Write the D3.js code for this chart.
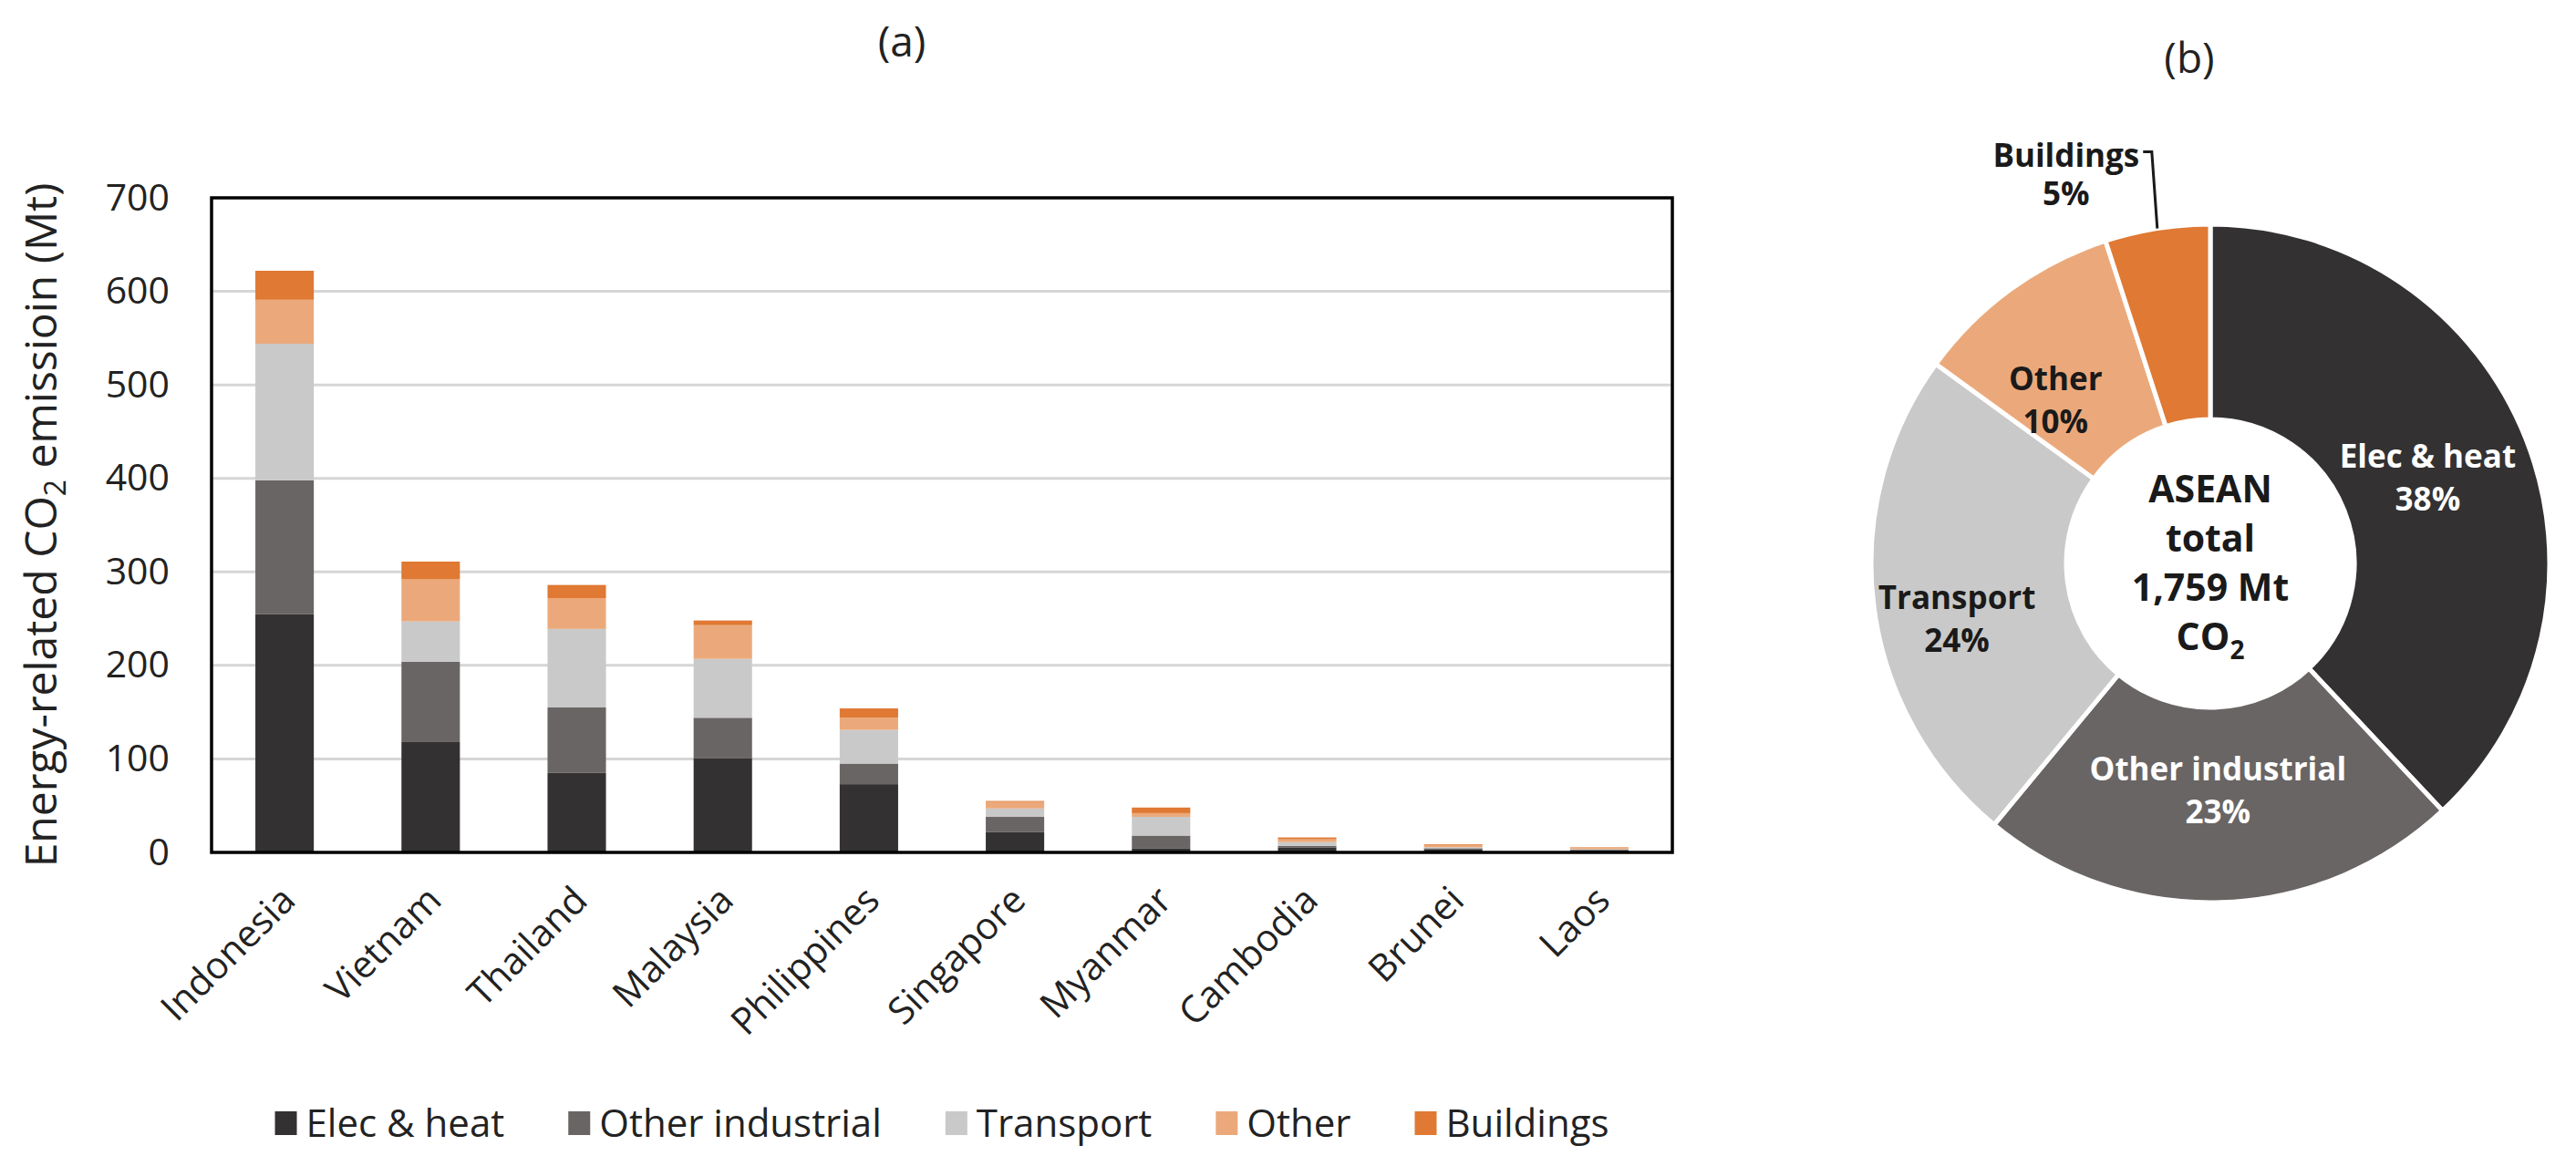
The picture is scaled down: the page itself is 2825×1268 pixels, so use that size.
<!DOCTYPE html>
<html><head><meta charset="utf-8">
<script src="https://cdn.jsdelivr.net/npm/d3@7"></script>
<style>
html,body{margin:0;padding:0;background:#fff;}
svg text{font-family:"Open Sans",sans-serif;}
</style></head><body>
<svg id="chart" width="2825" height="1268"></svg>
<script>
// ---- data ----
const countries = ["Indonesia","Vietnam","Thailand","Malaysia","Philippines","Singapore","Myanmar","Cambodia","Brunei","Laos"];
const sectors = ["Elec & heat","Other industrial","Transport","Other","Buildings"];
const elecHeat        = [255,118,85,101,73,22,4,5,3,2.5];
const otherIndustrial = [143,86,70,43,22,16,14,2,1.5,0.5];
const transport       = [146,43,84,63,36,9,20,4,1,0.5];
const other           = [47,45,33,36,13,7,4,3,2.5,1.5];
const buildings       = [31,19,14,5,10,1,6,2,0.8,0.5];
const yTicks = [0,100,200,300,400,500,600,700];
const shareLabels = ["Elec & heat","Other industrial","Transport","Other","Buildings"];
const sharePct = [38,23,24,10,5];
const centerLines = ["ASEAN","total","1,759 Mt","CO2"];
const colors = ["#333132","#696564","#c9c9c9","#eba97b","#df7933"];

// ---- layout ----
const svg = d3.select("#chart");
const M = {left:232, right:1834, top:217, bottom:935};
const x = d3.scaleBand().domain(countries).range([M.left,M.right]).paddingInner(0.6).paddingOuter(0.3);
const y = d3.scaleLinear().domain([0,700]).range([M.bottom,M.top]);
const color = d3.scaleOrdinal().domain(sectors).range(colors);
const series = [elecHeat,otherIndustrial,transport,other,buildings];
const rows = countries.map((c,i)=>{const o={country:c}; sectors.forEach((s,k)=>o[s]=series[k][i]); return o;});
const stacked = d3.stack().keys(sectors)(rows);

// titles
svg.append("text").attr("x",989).attr("y",62).attr("text-anchor","middle").attr("font-size",46).attr("fill","#222").text("(a)");
svg.append("text").attr("x",2401).attr("y",80).attr("text-anchor","middle").attr("font-size",46).attr("fill","#222").text("(b)");

// gridlines
svg.append("g").selectAll("line").data(yTicks.filter(t=>t>0&&t<700)).join("line")
  .attr("x1",M.left).attr("x2",M.right).attr("y1",d=>y(d)).attr("y2",d=>y(d))
  .attr("stroke","#d6d6d6").attr("stroke-width",3);

// y axis labels
const ya = svg.append("g").attr("transform",`translate(${M.left},0)`)
  .call(d3.axisLeft(y).tickValues(yTicks).tickSize(0).tickPadding(46));
ya.select(".domain").remove();
ya.selectAll("text").attr("font-size",41).attr("fill","#222").attr("font-family","Open Sans");

// bars
svg.append("g").selectAll("g").data(stacked).join("g").attr("fill",d=>color(d.key))
  .selectAll("rect").data(d=>d).join("rect")
  .attr("x",d=>x(d.data.country)).attr("width",x.bandwidth())
  .attr("y",d=>y(d[1])).attr("height",d=>Math.max(0,y(d[0])-y(d[1])));

// frame
svg.append("rect").attr("x",M.left).attr("y",M.top).attr("width",M.right-M.left).attr("height",M.bottom-M.top)
  .attr("fill","none").attr("stroke","#000").attr("stroke-width",3.5);

// x labels
svg.append("g").selectAll("text").data(countries).join("text")
  .attr("transform",d=>`translate(${x(d)+x.bandwidth()/2+14},${M.bottom+55}) rotate(-45)`)
  .attr("text-anchor","end").attr("font-size",41).attr("fill","#222").text(d=>d);

// y title
const yt = svg.append("text").attr("transform",`translate(62,${(M.top+M.bottom)/2}) rotate(-90)`)
  .attr("text-anchor","middle").attr("font-size",48).attr("fill","#222");
yt.append("tspan").text("Energy-related CO");
yt.append("tspan").attr("font-size",32).attr("dy",10).text("2");
yt.append("tspan").attr("dy",-10).text(" emissioin (Mt)");

// legend
const lg = svg.append("g");
let cx = 0; const gap = 70;
sectors.forEach((s,i)=>{
  const g = lg.append("g").attr("transform",`translate(${cx},0)`);
  g.append("rect").attr("x",0).attr("y",-13).attr("width",24).attr("height",26).attr("fill",colors[i]);
  const t = g.append("text").attr("x",34).attr("y",0).attr("dy","0.35em").attr("font-size",42).attr("fill","#222").text(s);
  cx += 34 + t.node().getComputedTextLength() + gap;
});
lg.attr("transform",`translate(${(M.left+M.right)/2-(cx-gap)/2},1232)`);

// ---- donut ----
const pc = {x:2424,y:618}, R = 372, r0 = 158;
const pg = svg.append("g").attr("transform",`translate(${pc.x},${pc.y})`);
const pie = d3.pie().sort(null).value(d=>d.v);
const arcs = pie(shareLabels.map((l,i)=>({l,v:sharePct[i]})));
const arc = d3.arc().innerRadius(r0).outerRadius(R);
pg.selectAll("path").data(arcs).join("path").attr("d",arc)
  .attr("fill",(d,i)=>colors[i]).attr("stroke","#fff").attr("stroke-width",5);

// label nudges (px) relative to slice centroids
const nudge = {"Elec & heat":[-8,4],"Other industrial":[0,-16],"Transport":[-15,28],"Other":[-14,36]};
const lineH = 47;
arcs.forEach((a,i)=>{
  if (a.data.l === "Buildings") return;
  const c = arc.centroid(a), n = nudge[a.data.l];
  const cx0 = c[0]+n[0], cy0 = c[1]+n[1];
  const fill = (i<2) ? "#fff" : "#1a1a1a";
  const t = pg.append("text").attr("text-anchor","middle").attr("font-size",35).attr("font-weight","bold").attr("fill",fill);
  t.append("tspan").attr("x",cx0).attr("y",cy0-lineH/2).attr("dy","0.35em").text(a.data.l);
  t.append("tspan").attr("x",cx0).attr("y",cy0+lineH/2).attr("dy","0.35em").text(a.data.v+"%");
});
// buildings outside label with leader
const bA = arcs[4];
const outer = d3.arc().innerRadius(R).outerRadius(R).centroid(bA);
const bx = outer[0]-100, by = outer[1]-80;
const bt = pg.append("text").attr("text-anchor","middle").attr("font-size",35).attr("font-weight","bold").attr("fill","#1a1a1a");
const bt1 = bt.append("tspan").attr("x",bx).attr("y",by).attr("dy","0.35em").text(bA.data.l);
bt.append("tspan").attr("x",bx).attr("y",by+42).attr("dy","0.35em").text(bA.data.v+"%");
const bw = bt1.node().getComputedTextLength();
pg.append("path").attr("d",`M${bx+bw/2+4},${by-4}H${outer[0]-6}L${outer[0]},${outer[1]}`)
  .attr("fill","none").attr("stroke","#1a1a1a").attr("stroke-width",3);

// center text
const ct = pg.append("text").attr("text-anchor","middle").attr("font-size",41).attr("font-weight","bold").attr("fill","#1a1a1a");
const cH = 54;
centerLines.forEach((l,i)=>{
  const ts = ct.append("tspan").attr("x",0).attr("y",(i-1.5)*cH).attr("dy","0.35em");
  if (l==="CO2") { ts.text("CO"); ct.append("tspan").attr("font-size",28).attr("dy",10).text("2"); }
  else ts.text(l);
});
</script>
</body></html>
